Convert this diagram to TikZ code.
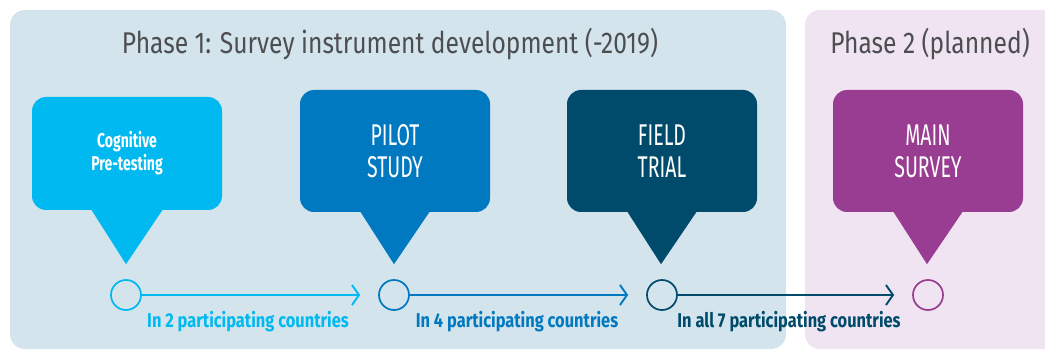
\documentclass[tikz,border=0pt]{standalone}
\usepackage{fontspec}
\newfontfamily\cond[FakeStretch=0.7]{Fira Sans}
\newfontfamily\condw[FakeStretch=0.82]{Fira Sans}
\newfontfamily\condn[FakeStretch=0.65]{Fira Sans}
\usetikzlibrary{arrows.meta}
\definecolor{ph1}{HTML}{D3E4EC}
\definecolor{ph2}{HTML}{F0E4F2}
\definecolor{cCog}{HTML}{00B9F1}
\definecolor{cPil}{HTML}{0079C1}
\definecolor{cFie}{HTML}{004B6B}
\definecolor{cMai}{HTML}{983D91}
\definecolor{ttl}{HTML}{4D4E50}
\tikzset{
  panel/.style={rounded corners=15pt},
  phasetitle/.style={font=\condw\fontsize{30}{36}\selectfont, text=ttl, anchor=base, inner sep=0pt},
  callout/.style={rounded corners=14pt, minimum width=190pt, minimum height=122pt, text=white, align=center, inner sep=0pt, font=\condn\fontsize{30}{32}\selectfont},
  smallcallout/.style={callout, minimum height=113pt, font=\cond\bfseries\fontsize{20}{23}\selectfont},
  dot/.style={circle, minimum size=30pt, inner sep=0pt, line width=1.7pt, fill=none},
  arr/.style={line width=1.7pt, -{Straight Barb[length=7pt, width=20pt, line width=1.9pt]}, shorten >=18pt},
  lab/.style={font=\condw\bfseries\fontsize{20}{22}\selectfont, inner sep=0pt, anchor=base}
}
\begin{document}
\begin{tikzpicture}[x=1pt,y=-1pt]
\useasboundingbox (0,0) rectangle (1045,350);
\clip (0,0) rectangle (1045,350);
\fill[ph1, panel] (10,10) rectangle (786,349);
\fill[ph2, panel] (805,10) rectangle (1070,349);
\node[phasetitle] (t1) at (390,54) {Phase 1: Survey instrument development (-2019)};
\node[phasetitle] (t2) at (930,54) {Phase 2 (planned)};
% callouts
\node[smallcallout, fill=cCog] (cog) at (127,153.5) {Cognitive\\Pre-testing};
\node[callout, fill=cPil] (pilot) at (395,151) {PILOT\\STUDY};
\node[callout, fill=cFie] (field) at (662,151) {FIELD\\TRIAL};
\node[callout, fill=cMai] (main) at (928,151) {MAIN\\SURVEY};
\fill[cCog] ([xshift=-36pt,yshift=1pt]cog.south) -- ([xshift=36pt,yshift=1pt]cog.south) -- ([xshift=-1pt,yshift=-54pt]cog.south) -- cycle;
\foreach \n/\c in {pilot/cPil, field/cFie, main/cMai}{
  \fill[\c] ([xshift=-35pt,yshift=1pt]\n.south) -- ([xshift=35pt,yshift=1pt]\n.south) -- ([xshift=-1pt,yshift=-52pt]\n.south) -- cycle;
}
% timeline
\node[dot, draw=cCog] (d1) at (126,295) {};
\node[dot, draw=cPil] (d2) at (394,295) {};
\node[dot, draw=cFie] (d3) at (662,295) {};
\node[dot, draw=cMai] (d4) at (928,295) {};
\draw[arr, cCog] (d1) -- (d2);
\draw[arr, cPil] (d2) -- (d3);
\draw[arr, cFie] (d3) -- (d4);
\node[lab, text=cCog] (l1) at (248,327) {In 2 participating countries};
\node[lab, text=cPil] (l2) at (517,327) {In 4 participating countries};
\node[lab, text=cFie] (l3) at (789,327) {In all 7 participating countries};
\end{tikzpicture}
\end{document}
